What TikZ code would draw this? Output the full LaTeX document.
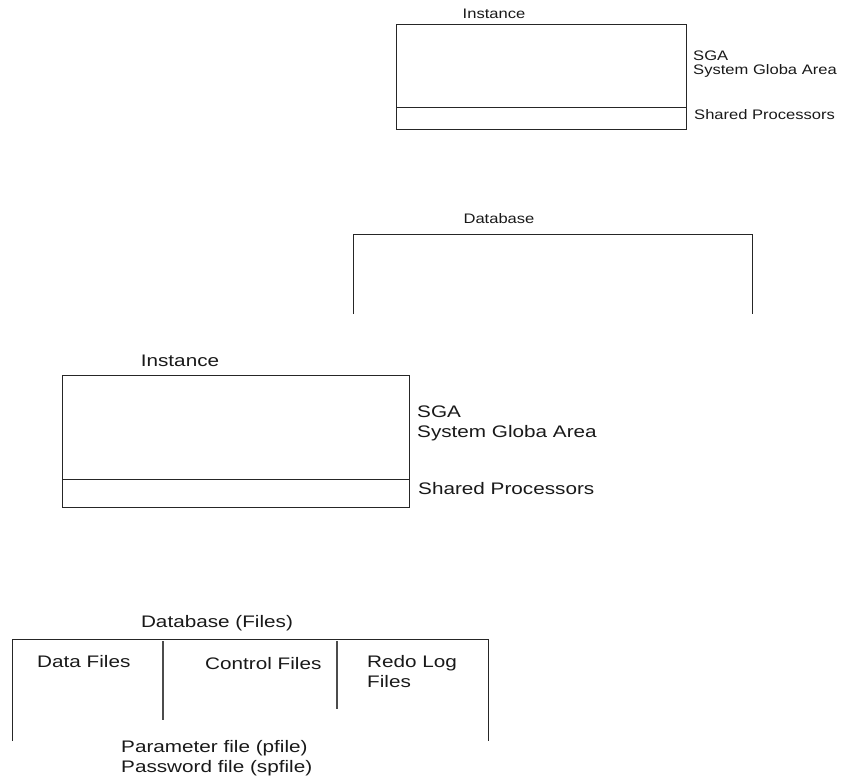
\documentclass[tikz,border=0pt]{standalone}
\usepackage{fontspec}
\setmainfont{Liberation Sans}
\newcommand\wtxt[1]{\scalebox{1.2}[1]{#1}}
\newcommand\wbig[1]{\scalebox{1.24}[1]{#1}}
\tikzset{
  frame/.style={draw=black!85, line width=0.9pt},
  divider/.style={draw=black!70, line width=1.5pt},
  smalllbl/.style={inner sep=0pt, text=black!90, font=\fontsize{13.8}{14}\selectfont, align=left},
  biglbl/.style={inner sep=0pt, text=black!90, font=\fontsize{16.7}{20.5}\selectfont, align=left},
  boxnode/.style={frame, inner sep=0pt, anchor=north west}
}
\begin{document}
\begin{tikzpicture}[x=1pt,y=-1pt]
\useasboundingbox (0,0) rectangle (841,780);

% ---- upper instance ----
\node[smalllbl] (i1lbl) at (494,14) {\wtxt{Instance}};
\node[boxnode, minimum width=290pt, minimum height=105pt] (i1) at (396,24) {};
\coordinate (i1dl) at (396,107);
\coordinate (i1dr) at (686,107);
\draw[frame] (i1dl) -- (i1dr);
\node[smalllbl, anchor=west] (i1sga) at (693,64) {\wtxt{SGA}\\\wtxt{System Globa Area}};
\node[smalllbl, anchor=west] (i1sp) at (694,115) {\wtxt{Shared Processors}};

% ---- upper database ----
\node[smalllbl] (db1lbl) at (499,219) {\wtxt{Database}};
\coordinate (db1a) at (353,314);
\coordinate (db1b) at (353,234);
\coordinate (db1c) at (752,234);
\coordinate (db1d) at (752,314);
\draw[frame] (db1a) -- (db1b) -- (db1c) -- (db1d);

% ---- lower instance ----
\node[biglbl] (i2lbl) at (180,361) {\wbig{Instance}};
\node[boxnode, minimum width=347pt, minimum height=132pt] (i2) at (62,375) {};
\coordinate (i2dl) at (62,479);
\coordinate (i2dr) at (409,479);
\draw[frame] (i2dl) -- (i2dr);
\node[biglbl, anchor=west] (i2sga) at (417,423.5) {\wbig{SGA}\\\wbig{System Globa Area}};
\node[biglbl, anchor=west] (i2sp) at (418,489) {\wbig{Shared Processors}};

% ---- database files ----
\node[biglbl] (db2lbl) at (217,623) {\wbig{Database (Files)}};
\coordinate (db2a) at (12,741);
\coordinate (db2b) at (12,639);
\coordinate (db2c) at (488,639);
\coordinate (db2d) at (488,741);
\draw[frame] (db2a) -- (db2b) -- (db2c) -- (db2d);
\coordinate (dv1t) at (163,641);
\coordinate (dv1b) at (163,720);
\coordinate (dv2t) at (337,641);
\coordinate (dv2b) at (337,709);
\draw[divider] (dv1t) -- (dv1b);
\draw[divider] (dv2t) -- (dv2b);
\node[biglbl, anchor=west] (data) at (37,662) {\wbig{Data Files}};
\node[biglbl, anchor=west] (ctrl) at (205,664) {\wbig{Control Files}};
\node[biglbl, anchor=west] (redo) at (367,671.5) {\wbig{Redo Log}\\\wbig{Files}};
\node[biglbl, anchor=west] (param) at (121,758) {\wbig{Parameter file (pfile)}\\\wbig{Password file (spfile)}};
\end{tikzpicture}
\end{document}
